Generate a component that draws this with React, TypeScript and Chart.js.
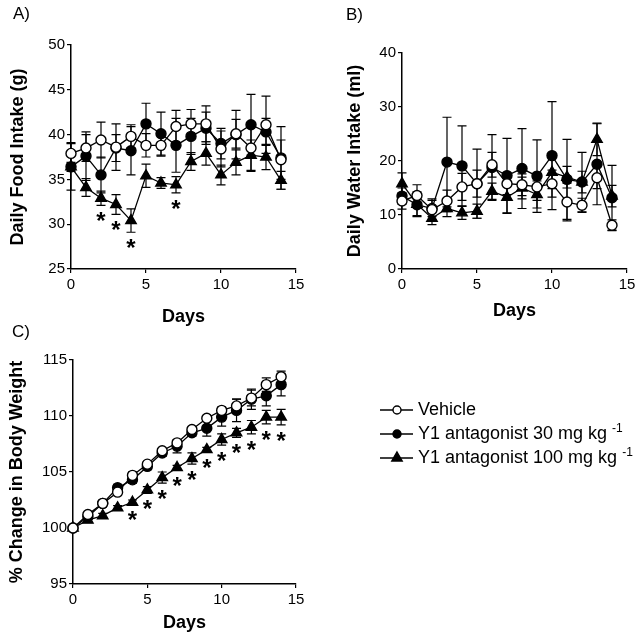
import React, { useEffect, useRef } from "react";
import { Chart, registerables } from "chart.js";

Chart.register(...registerables);

const FONT = '"Liberation Sans", Arial, Helvetica, sans-serif';

// ---------- data ----------
const days = [0, 1, 2, 3, 4, 5, 6, 7, 8, 9, 10, 11, 12, 13, 14];
const dayTicks = [0, 5, 10, 15];
const seriesNames = ["Vehicle", "Y1 antagonist 30 mg kg", "Y1 antagonist 100 mg kg"];
const seriesSuperscripts = ["", "-1", "-1"];

// A) Daily food intake (g)
const foodTicks = [25, 30, 35, 40, 45, 50];
const foodVehicle = [37.9, 38.5, 39.4, 38.6, 39.8, 38.8, 38.8, 40.9, 41.2, 41.2, 38.4, 40.1, 38.5, 41.1, 37.2];
const foodVehicleErr = [1.2, 1.5, 2.0, 2.6, 1.3, 1.3, 1.2, 1.8, 1.6, 2.0, 2.0, 1.6, 2.6, 3.2, 2.2];
const food30 = [36.4, 37.6, 35.5, 38.5, 38.2, 41.2, 40.1, 38.8, 39.8, 40.7, 39.0, 40.0, 41.1, 40.3, 37.4];
const food30Err = [2.6, 2.7, 2.0, 1.5, 2.7, 2.3, 2.4, 3.0, 2.0, 1.8, 1.7, 2.7, 3.4, 1.5, 3.5];
const food100 = [36.4, 34.1, 32.9, 32.2, 30.4, 35.4, 34.6, 34.4, 37.0, 37.9, 35.5, 36.9, 37.7, 37.5, 34.9];
const food100Err = [0.5, 1.0, 0.8, 1.1, 1.3, 1.3, 0.6, 0.9, 1.0, 1.3, 1.1, 1.4, 1.7, 1.4, 1.0];
const foodStarDays = [2, 3, 4, 7];

// B) Daily water intake (ml)
const waterTicks = [0, 10, 20, 30, 40];
const waterVehicle = [12.6, 13.6, 11.0, 12.6, 15.2, 15.8, 19.3, 15.8, 15.6, 15.2, 15.8, 12.4, 11.8, 16.9, 8.1];
const waterVehicleErr = [1.5, 2.0, 2.0, 2.0, 2.5, 2.5, 2.3, 2.0, 2.0, 2.5, 2.5, 3.5, 1.3, 2.0, 1.0];
const water30 = [13.5, 11.9, 11.2, 19.8, 19.1, 15.8, 18.8, 17.3, 18.6, 17.2, 21.0, 16.6, 16.1, 19.4, 13.2];
const water30Err = [1.5, 2.0, 1.5, 8.3, 7.4, 6.4, 6.1, 6.9, 7.4, 6.7, 10.0, 7.4, 5.5, 7.5, 6.0];
const water100 = [15.8, 12.0, 9.4, 11.2, 10.4, 10.7, 14.4, 13.3, 15.0, 13.8, 17.9, 17.0, 16.1, 24.0, 13.5];
const water100Err = [2.0, 2.3, 1.2, 1.5, 1.2, 1.3, 1.5, 3.0, 2.0, 2.5, 3.0, 2.0, 2.0, 3.0, 2.0];
const waterStarDays: number[] = [];

// C) % change in body weight
const weightTicks = [95, 100, 105, 110, 115];
const weightVehicle = [100.0, 101.2, 102.2, 103.2, 104.7, 105.7, 106.9, 107.6, 108.8, 109.8, 110.5, 110.9, 111.6, 112.8, 113.5];
const weightVehicleErr = [0.1, 0.2, 0.2, 0.3, 0.3, 0.2, 0.2, 0.2, 0.2, 0.2, 0.3, 0.6, 0.7, 0.6, 0.5];
const weight30 = [100.0, 101.0, 102.2, 103.6, 104.3, 105.5, 106.7, 107.3, 108.5, 108.9, 109.9, 110.5, 111.5, 111.8, 112.8];
const weight30Err = [0.1, 0.2, 0.2, 0.3, 0.3, 0.3, 0.3, 0.6, 0.3, 0.7, 0.8, 1.0, 0.9, 0.9, 1.0];
const weight100 = [100.0, 100.7, 101.1, 101.8, 102.3, 103.4, 104.5, 105.4, 106.2, 107.0, 107.9, 108.5, 109.0, 109.9, 109.9];
const weight100Err = [0.1, 0.2, 0.2, 0.2, 0.2, 0.3, 0.5, 0.2, 0.5, 0.2, 0.5, 0.4, 0.6, 0.6, 0.7];
const weightStarDays = [4, 5, 6, 7, 8, 9, 10, 11, 12, 13, 14];

// ---------- styling ----------
const markers = [
  { style: "circle", radius: 5, fill: "#ffffff" },
  { style: "circle", radius: 5, fill: "#000000" },
  { style: "triangle", radius: 6, fill: "#000000" },
];

function drawMarker(ctx: CanvasRenderingContext2D, style: string, x: number, y: number, r: number, fill: string) {
  ctx.beginPath();
  if (style === "circle") {
    ctx.arc(x, y, r, 0, Math.PI * 2);
  } else {
    const h = r * 0.866;
    ctx.moveTo(x, y - r);
    ctx.lineTo(x + h, y + r / 2);
    ctx.lineTo(x - h, y + r / 2);
    ctx.closePath();
  }
  ctx.fillStyle = fill;
  ctx.fill();
  ctx.lineWidth = 1.4;
  ctx.strokeStyle = "#000";
  ctx.stroke();
}

type Spec = {
  width: number;
  height: number;
  area: { left: number; top: number; right: number; bottom: number };
  yTicks: number[];
  yTitle: string;
  yTitlePad: number;
  xTitlePad: number;
  values: number[][];
  errors: number[][];
  stars: number[];
  label: string;
  labelX: number;
  labelY: number;
  legend?: { x: number; rows: number[] };
};

function makeDecor(spec: Spec) {
  return {
    id: "decor",
    beforeDatasetsDraw(chart: any) {
      const ctx = chart.ctx as CanvasRenderingContext2D;
      const ys = chart.scales.y;
      ctx.save();
      ctx.strokeStyle = "#000";
      ctx.lineWidth = 1.2;
      chart.data.datasets.forEach((ds: any, i: number) => {
        const meta = chart.getDatasetMeta(i);
        const errs: number[] = ds.errors || [];
        meta.data.forEach((pt: any, j: number) => {
          const v = ds.data[j].y;
          const e = errs[j] || 0;
          const x = pt.x;
          const y1 = ys.getPixelForValue(v + e);
          const y2 = ys.getPixelForValue(v - e);
          ctx.beginPath();
          ctx.moveTo(x, y1);
          ctx.lineTo(x, y2);
          ctx.moveTo(x - 4.5, y1);
          ctx.lineTo(x + 4.5, y1);
          ctx.moveTo(x - 4.5, y2);
          ctx.lineTo(x + 4.5, y2);
          ctx.stroke();
        });
      });
      ctx.restore();
    },
    afterDatasetsDraw(chart: any) {
      const ctx = chart.ctx as CanvasRenderingContext2D;
      const ys = chart.scales.y;
      const xs = chart.scales.x;
      ctx.save();
      ctx.fillStyle = "#000";
      ctx.font = `bold 24px ${FONT}`;
      ctx.textAlign = "center";
      ctx.textBaseline = "alphabetic";
      spec.stars.forEach((d) => {
        const j = days.indexOf(d);
        const v = spec.values[2][j];
        const e = spec.errors[2][j];
        const yLow = ys.getPixelForValue(v - e);
        const cy = yLow + 10;
        ctx.fillText("*", xs.getPixelForValue(d), cy + 0.575 * 24);
      });
      ctx.restore();
    },
    afterDraw(chart: any) {
      const ctx = chart.ctx as CanvasRenderingContext2D;
      ctx.save();
      ctx.fillStyle = "#000";
      ctx.font = `17px ${FONT}`;
      ctx.textAlign = "left";
      ctx.textBaseline = "alphabetic";
      ctx.fillText(spec.label, spec.labelX, spec.labelY);
      if (spec.legend) {
        const lg = spec.legend;
        lg.rows.forEach((ry, i) => {
          ctx.beginPath();
          ctx.moveTo(lg.x, ry);
          ctx.lineTo(lg.x + 33, ry);
          ctx.lineWidth = 1.3;
          ctx.strokeStyle = "#000";
          ctx.stroke();
          const m = markers[i];
          drawMarker(ctx, m.style, lg.x + 17, ry, m.style === "circle" ? 4 : 6, m.fill);
          ctx.fillStyle = "#000";
          ctx.font = `18px ${FONT}`;
          ctx.textBaseline = "middle";
          const tx = lg.x + 38;
          ctx.fillText(seriesNames[i], tx, ry);
          if (seriesSuperscripts[i]) {
            const w = ctx.measureText(seriesNames[i] + " ").width;
            ctx.font = `12px ${FONT}`;
            ctx.fillText(seriesSuperscripts[i], tx + w, ry - 5);
          }
        });
      }
      ctx.restore();
    },
  };
}

function makeConfig(spec: Spec): any {
  const datasets = spec.values.map((vals, i) => ({
    label: seriesNames[i],
    data: days.map((d, j) => ({ x: d, y: vals[j] })),
    errors: spec.errors[i],
    borderColor: "#000",
    borderWidth: 1.3,
    pointStyle: markers[i].style,
    pointRadius: markers[i].radius,
    pointBackgroundColor: markers[i].fill,
    pointBorderColor: "#000",
    pointBorderWidth: 1.4,
    showLine: true,
    tension: 0,
    fill: false,
    clip: false,
  }));
  const a = spec.area;
  return {
    type: "line",
    data: { datasets },
    plugins: [makeDecor(spec)],
    options: {
      animation: false,
      responsive: false,
      devicePixelRatio: 1,
      events: [],
      layout: { padding: { top: a.top, left: 0, right: spec.width - a.right, bottom: 0 } },
      plugins: { legend: { display: false }, tooltip: { enabled: false }, title: { display: false } },
      scales: {
        x: {
          type: "linear",
          min: dayTicks[0],
          max: dayTicks[dayTicks.length - 1],
          afterFit: (s: any) => {
            s.height = spec.height - a.bottom;
          },
          ticks: { stepSize: dayTicks[1] - dayTicks[0], color: "#000", font: { family: FONT, size: 15 }, padding: 3, maxRotation: 0 },
          grid: { display: true, drawOnChartArea: false, drawTicks: true, tickLength: 4, color: "#000", lineWidth: 1.2 },
          border: { display: true, color: "#000", width: 1.5 },
          title: { display: true, text: "Days", color: "#000", font: { family: FONT, size: 18, weight: "bold" }, padding: { top: 0, bottom: spec.xTitlePad } },
        },
        y: {
          type: "linear",
          min: spec.yTicks[0],
          max: spec.yTicks[spec.yTicks.length - 1],
          afterFit: (s: any) => {
            s.width = a.left;
          },
          ticks: { stepSize: spec.yTicks[1] - spec.yTicks[0], color: "#000", font: { family: FONT, size: 15 }, padding: 2 },
          grid: { display: true, drawOnChartArea: false, drawTicks: true, tickLength: 4, color: "#000", lineWidth: 1.2 },
          border: { display: true, color: "#000", width: 1.5 },
          title: { display: true, text: spec.yTitle, color: "#000", font: { family: FONT, size: 18, weight: "bold" }, padding: { top: spec.yTitlePad, bottom: 0 } },
        },
      },
    },
  };
}

const specA: Spec = {
  width: 320,
  height: 335,
  area: { left: 71, top: 45, right: 296, bottom: 269 },
  yTicks: foodTicks,
  yTitle: "Daily Food Intake (g)",
  yTitlePad: 7,
  xTitlePad: 7,
  values: [foodVehicle, food30, food100],
  errors: [foodVehicleErr, food30Err, food100Err],
  stars: foodStarDays,
  label: "A)",
  labelX: 13,
  labelY: 19,
};

const specB: Spec = {
  width: 320,
  height: 335,
  area: { left: 82, top: 53, right: 307, bottom: 269 },
  yTicks: waterTicks,
  yTitle: "Daily Water Intake (ml)",
  yTitlePad: 24,
  xTitlePad: 13,
  values: [waterVehicle, water30, water100],
  errors: [waterVehicleErr, water30Err, water100Err],
  stars: waterStarDays,
  label: "B)",
  labelX: 26,
  labelY: 20,
};

const specC: Spec = {
  width: 640,
  height: 316,
  area: { left: 73, top: 40, right: 296, bottom: 264 },
  yTicks: weightTicks,
  yTitle: "% Change in Body Weight",
  yTitlePad: 6,
  xTitlePad: 2,
  values: [weightVehicle, weight30, weight100],
  errors: [weightVehicleErr, weight30Err, weight100Err],
  stars: weightStarDays,
  label: "C)",
  labelX: 12,
  labelY: 17,
  legend: { x: 380, rows: [90, 114, 138] },
};

function Panel({ spec, left, top }: { spec: Spec; left: number; top: number }) {
  const ref = useRef<HTMLCanvasElement | null>(null);
  useEffect(() => {
    const chart = new Chart(ref.current as HTMLCanvasElement, makeConfig(spec));
    return () => chart.destroy();
  }, []);
  return (
    <canvas
      ref={ref}
      width={spec.width}
      height={spec.height}
      style={{ position: "absolute", left, top, width: spec.width, height: spec.height }}
    />
  );
}

export default function App() {
  return (
    <div style={{ position: "absolute", left: 0, top: 0, width: 640, height: 636, background: "#fff", overflow: "hidden" }}>
      <Panel spec={specA} left={0} top={0} />
      <Panel spec={specB} left={320} top={0} />
      <Panel spec={specC} left={0} top={320} />
    </div>
  );
}
